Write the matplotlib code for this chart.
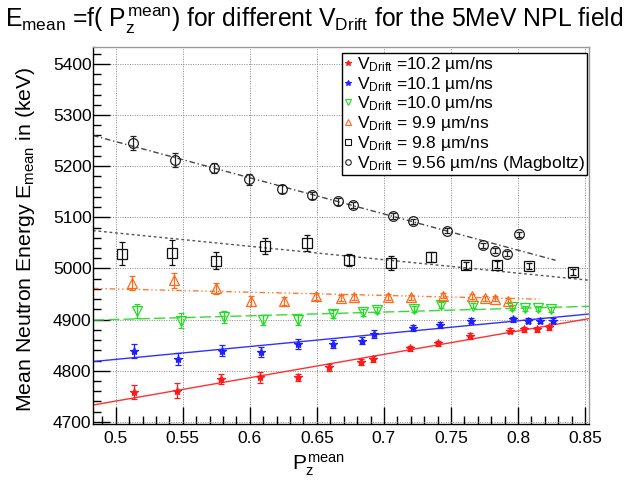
import matplotlib
matplotlib.use("Agg")
import matplotlib.pyplot as plt
from matplotlib.lines import Line2D
from matplotlib.ticker import MultipleLocator

plt.rcParams["font.family"] = ["Liberation Sans", "DejaVu Sans"]
plt.rcParams["mathtext.fontset"] = "custom"
plt.rcParams["mathtext.rm"] = "Liberation Sans"
plt.rcParams["mathtext.it"] = "Liberation Sans"
plt.rcParams["mathtext.bf"] = "Liberation Sans:bold"

# --- data ---
labels = [
    r"$V_{Drift}$ =10.2 µm/ns",
    r"$V_{Drift}$ =10.1 µm/ns",
    r"$V_{Drift}$ =10.0 µm/ns",
    r"$V_{Drift}$ = 9.9 µm/ns",
    r"$V_{Drift}$ = 9.8 µm/ns",
    r"$V_{Drift}$ = 9.56 µm/ns (Magboltz)",
]

x_102 = [0.5134, 0.5458, 0.5784, 0.6075, 0.6356, 0.6592, 0.6826, 0.6916,
         0.7194, 0.7405, 0.7642, 0.7940, 0.8047, 0.8139, 0.8234]
y_102 = [4758, 4761, 4784, 4787, 4787, 4807, 4818, 4823,
         4844, 4854, 4868, 4878, 4881, 4881, 4885]
e_102 = [14, 15, 10, 10, 7, 7, 6, 6, 5, 5, 5, 5, 5, 5, 5]

x_101 = [0.5134, 0.5465, 0.5793, 0.6082, 0.6356, 0.6622, 0.6834, 0.6928,
         0.7218, 0.7418, 0.7649, 0.7965, 0.8078, 0.8164, 0.8259]
y_101 = [4839, 4823, 4839, 4836, 4852, 4852, 4859, 4872,
         4883, 4889, 4898, 4901, 4898, 4898, 4898]
e_101 = [14, 12, 11, 10, 10, 8, 7, 7, 6, 6, 5, 5, 5, 5, 5]

x_100 = [0.5162, 0.5490, 0.5806, 0.6099, 0.6360, 0.6622, 0.6846, 0.6946,
         0.7224, 0.7423, 0.7667, 0.7953, 0.8052, 0.8152, 0.8244]
y_100 = [4917, 4898, 4905, 4899, 4899, 4911, 4914, 4918,
         4920, 4928, 4927, 4924, 4922, 4922, 4920]
e_100 = [14, 14, 12, 10, 10, 8, 6, 6, 6, 6, 5, 5, 5, 5, 5]

x_099 = [0.5125, 0.5435, 0.5746, 0.6007, 0.6254, 0.6493, 0.6679, 0.6776,
         0.7030, 0.7205, 0.7437, 0.7660, 0.7751, 0.7830, 0.7928]
y_099 = [4972, 4977, 4961, 4937, 4937, 4946, 4943, 4945,
         4944, 4944, 4947, 4946, 4942, 4941, 4937]
e_099 = [14, 15, 11, 10, 8, 7, 6, 6, 6, 5, 5, 5, 5, 5, 5]

x_098 = [0.5047, 0.5423, 0.5746, 0.6112, 0.6428, 0.6739, 0.7050, 0.7349,
         0.7612, 0.7846, 0.8084, 0.8408]
y_098 = [5029, 5031, 5015, 5044, 5050, 5016, 5011, 5022,
         5006, 5007, 5005, 4993]
e_098 = [22, 25, 17, 15, 16, 12, 14, 10, 7, 7, 6, 6]

x_956 = [0.5129, 0.5440, 0.5731, 0.5995, 0.6241, 0.6465, 0.6659, 0.6766,
         0.7065, 0.7219, 0.7472, 0.7737, 0.7828, 0.7916, 0.8007]
y_956 = [5245, 5212, 5197, 5174, 5155, 5143, 5131, 5124,
         5102, 5092, 5074, 5045, 5035, 5029, 5067]
e_956 = [14, 13, 10, 10, 8, 7, 6, 6, 6, 5, 5, 5, 5, 5, 5]

# fitted straight lines (end points)
fit_x_102, fit_y_102 = [0.483, 0.853], [4733, 4902]
fit_x_101, fit_y_101 = [0.483, 0.853], [4818, 4911]
fit_x_100, fit_y_100 = [0.483, 0.853], [4899, 4926]
fit_x_099, fit_y_099 = [0.483, 0.816], [4961, 4940]
fit_x_098, fit_y_098 = [0.483, 0.853], [5074, 4977]
fit_x_956, fit_y_956 = [0.483, 0.828], [5260, 5016]

x_ticks = [0.5, 0.55, 0.6, 0.65, 0.7, 0.75, 0.8, 0.85]
x_ticklabels = ["0.5", "0.55", "0.6", "0.65", "0.7", "0.75", "0.8", "0.85"]

series = [
    (x_102, y_102, e_102, fit_x_102, fit_y_102),
    (x_101, y_101, e_101, fit_x_101, fit_y_101),
    (x_100, y_100, e_100, fit_x_100, fit_y_100),
    (x_099, y_099, e_099, fit_x_099, fit_y_099),
    (x_098, y_098, e_098, fit_x_098, fit_y_098),
    (x_956, y_956, e_956, fit_x_956, fit_y_956),
]

colors = ["#ff1a1a", "#2020ff", "#22dd22", "#ff6a1a", "#111111", "#222222"]
markers = ["*", "*", "v", "^", "s", "o"]
fills = [True, True, False, False, False, False]
msizes = [6, 6, 7, 7, 7, 7]
fit_styles = ["-", "-", (0, (8, 3)), (0, (4, 2, 1, 2, 1, 2)), (0, (2, 2)), (0, (4, 2, 1, 2))]
fit_colors = ["#ff3030", "#3030ff", "#33dd33", "#ff7a30", "#555555", "#444444"]

fig = plt.figure(figsize=(6.28, 4.84), dpi=100)
ax = fig.add_axes([0.148, 0.124, 0.790, 0.779])

for (xs, ys, es, fx, fy), c, m, f, ms, ls, fc in zip(
        series, colors, markers, fills, msizes, fit_styles, fit_colors):
    ax.plot(fx, fy, linestyle=ls, color=fc, linewidth=1.0, zorder=2)
    ax.errorbar(xs, ys, yerr=es, fmt="none", ecolor=c, elinewidth=0.9,
                capsize=2, capthick=0.9, zorder=3)
    ax.plot(xs, ys, linestyle="none", marker=m, markersize=ms,
            color=c, markerfacecolor=(c if f else "none"),
            markeredgewidth=0.9, zorder=4)

ax.set_xlim(0.483, 0.853)
ax.set_ylim(4696, 5433)

ax.xaxis.set_minor_locator(MultipleLocator(0.01))
ax.yaxis.set_major_locator(MultipleLocator(100))
ax.yaxis.set_minor_locator(MultipleLocator(20))
ax.set_xticks(x_ticks)
ax.set_xticklabels(x_ticklabels)
ax.tick_params(axis="both", which="both", direction="in", top=False, right=False,
               labelsize=12.5, width=1)
ax.tick_params(axis="both", which="major", length=12)
ax.tick_params(axis="both", which="minor", length=6)
ax.tick_params(axis="y", pad=1)
ax.tick_params(axis="x", pad=5)

ax.grid(True, which="major", linestyle=(0, (1, 1.5)), color="#888888", linewidth=0.7)
ax.set_axisbelow(True)
for s in ax.spines.values():
    s.set_linewidth(1)
ax.spines["top"].set_color("#999999")
ax.spines["right"].set_color("#999999")

ax.set_xlabel(r"$P_{z}^{mean}$", fontsize=15)
ax.xaxis.set_label_coords(0.455, -0.075, transform=ax.transAxes)
ax.xaxis.label.set_va("top")
ax.set_ylabel(r"Mean Neutron Energy $E_{mean}$ in (keV)", fontsize=15.3)
ax.yaxis.set_label_coords(-0.112, 0.49, transform=ax.transAxes)
fig.text(0.008, 0.988, r"$E_{mean}$ =f( $P_{z}^{mean}$) for different $V_{Drift}$ for the 5MeV NPL field",
         fontsize=17.8, ha="left", va="top")

handles = [Line2D([], [], linestyle="none", marker=m, markersize=4,
                  color=c, markerfacecolor=(c if f else "none"), markeredgewidth=0.8)
           for c, m, f in zip(colors, markers, fills)]
leg = ax.legend(handles, labels, loc="upper right", bbox_to_anchor=(0.996, 0.984),
                fontsize=12.5, frameon=True, fancybox=False, framealpha=1,
                edgecolor="black", borderpad=0.1, labelspacing=0.05,
                handlelength=0.5, handletextpad=0.25, borderaxespad=0)
leg.get_frame().set_linewidth(1)

fig.savefig("out.png", dpi=100)
